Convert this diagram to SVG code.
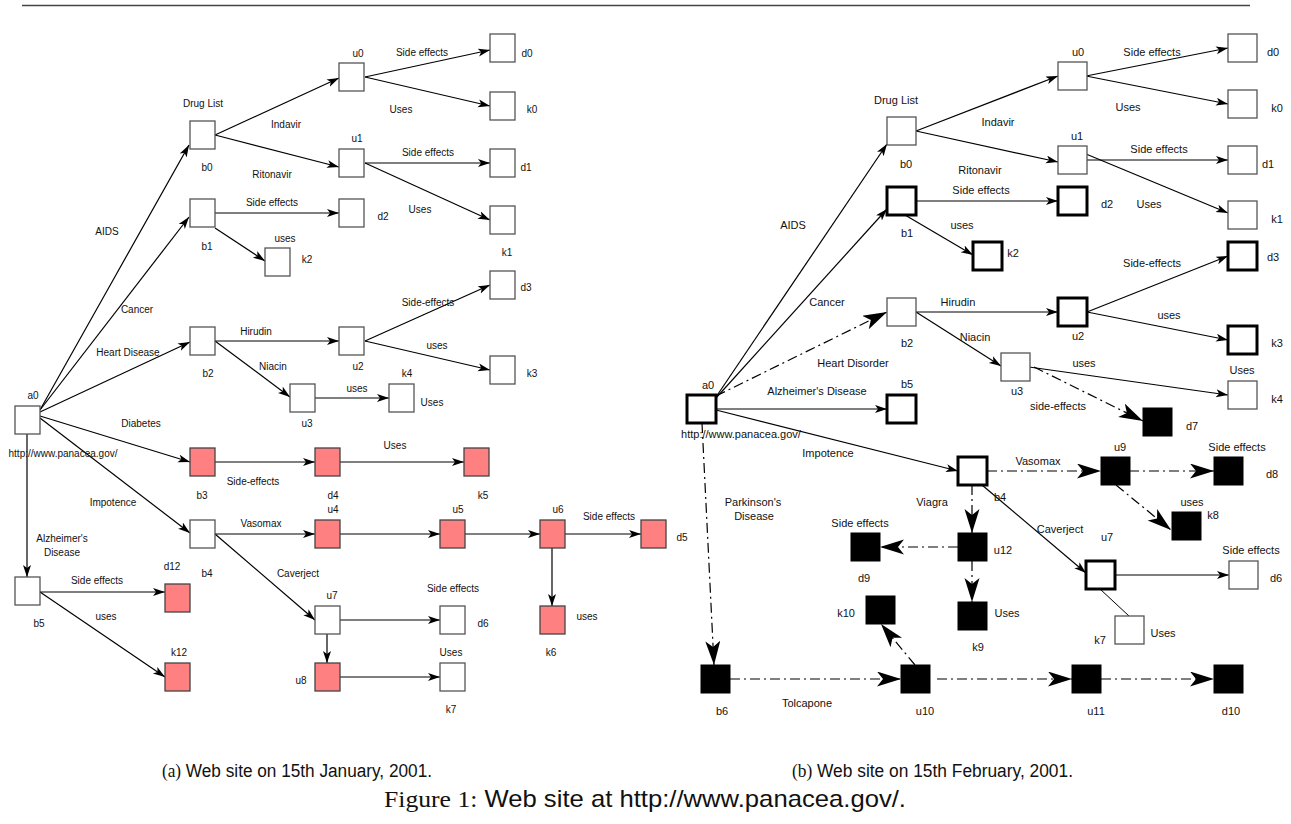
<svg xmlns="http://www.w3.org/2000/svg" width="1291" height="824" viewBox="0 0 1291 824">
<style>
text{font-family:"Liberation Sans",Arial,sans-serif;fill:#111;text-anchor:middle}
.L text{font-size:10px}
.R text{font-size:11px}
.n{fill:#fff;stroke:#555;stroke-width:1.3}
.r{fill:#ff8080;stroke:#444;stroke-width:1.3}
.t{fill:#fff;stroke:#000;stroke-width:3}
.k{fill:#000;stroke:#000;stroke-width:1}
.e{fill:none;stroke:#000;stroke-width:1.2;marker-end:url(#ah)}
.p{fill:none;stroke:#000;stroke-width:1}
.d{fill:none;stroke:#000;stroke-width:1.2;stroke-dasharray:10 4 2 4;marker-end:url(#ab)}
.cap{font-size:18px;text-anchor:start}
.serif{font-family:"Liberation Serif","Times New Roman",serif}
</style>
<defs>
<marker id="ah" markerUnits="userSpaceOnUse" markerWidth="14" markerHeight="10" refX="12" refY="4" orient="auto"><path d="M0,0 L12,4 L0,8 L3,4 Z" fill="#000"/></marker>
<marker id="ab" markerUnits="userSpaceOnUse" markerWidth="26" markerHeight="16" refX="24" refY="7.5" orient="auto"><path d="M0,0 L24,7.5 L0,15 L6,7.5 Z" fill="#000"/></marker>
</defs>
<line x1="22" y1="5.5" x2="1250" y2="5.5" stroke="#444" stroke-width="1.4"/>

<g id="diagram-a" class="L">
<g id="connectors-a">
<path class="e" d="M40,410 L189,145"/>
<path class="e" d="M40,410 L189,217"/>
<path class="e" d="M40,412 L190,342"/>
<path class="e" d="M40,416 L190,462"/>
<path class="e" d="M40,418 L190,533"/>
<path class="e" d="M27,434 L27,577"/>
<path class="e" d="M215,135 L339,78"/>
<path class="e" d="M215,135 L339,167"/>
<path class="e" d="M365,77 L490,50"/>
<path class="e" d="M365,77 L490,106"/>
<path class="e" d="M365,163 L490,163"/>
<path class="e" d="M365,163 L490,220"/>
<path class="e" d="M215,213 L339,213"/>
<path class="e" d="M215,228 L265,261"/>
<path class="e" d="M215,341 L339,341"/>
<path class="e" d="M215,341 L290,397"/>
<path class="e" d="M365,341 L490,285"/>
<path class="e" d="M365,341 L490,370"/>
<path class="e" d="M315,398 L389,398"/>
<path class="e" d="M215,462 L315,462"/>
<path class="e" d="M340,462 L464,462"/>
<path class="e" d="M215,534 L315,534"/>
<path class="e" d="M340,534 L440,534"/>
<path class="e" d="M465,534 L540,534"/>
<path class="e" d="M565,534 L641,534"/>
<path class="e" d="M552,548 L552,606"/>
<path class="e" d="M215,534 L315,620"/>
<path class="e" d="M327,634 L327,663"/>
<path class="e" d="M340,620 L440,620"/>
<path class="e" d="M340,677 L440,677"/>
<path class="e" d="M40,592 L165,592"/>
<path class="e" d="M40,592 L165,677"/>
</g>
<g id="a-a0"><rect class="n" x="15" y="406" width="25" height="28"/><text x="33" y="399">a0</text><text x="63" y="457">http://www.panacea.gov/</text></g>
<g id="a-b0"><rect class="n" x="190" y="121" width="25" height="28"/><text x="203" y="107">Drug List</text><text x="207" y="171">b0</text></g>
<g id="a-b1"><rect class="n" x="190" y="199" width="25" height="28"/><text x="207" y="250">b1</text></g>
<g id="a-k2"><rect class="n" x="265" y="248" width="25" height="28"/><text x="307" y="263">k2</text></g>
<g id="a-u0"><rect class="n" x="339" y="63" width="25" height="28"/><text x="358" y="57">u0</text></g>
<g id="a-d0"><rect class="n" x="490" y="34" width="25" height="28"/><text x="527" y="57">d0</text></g>
<g id="a-k0"><rect class="n" x="490" y="92" width="25" height="28"/><text x="532" y="113">k0</text></g>
<g id="a-u1"><rect class="n" x="339" y="149" width="25" height="28"/><text x="357" y="142">u1</text></g>
<g id="a-d1"><rect class="n" x="490" y="149" width="25" height="28"/><text x="526" y="171">d1</text></g>
<g id="a-k1"><rect class="n" x="490" y="206" width="25" height="28"/><text x="507" y="256">k1</text></g>
<g id="a-d2"><rect class="n" x="339" y="199" width="25" height="28"/><text x="383" y="220">d2</text></g>
<g id="a-b2"><rect class="n" x="190" y="327" width="25" height="28"/><text x="208" y="377">b2</text></g>
<g id="a-u2"><rect class="n" x="339" y="327" width="25" height="28"/><text x="358" y="370">u2</text></g>
<g id="a-d3"><rect class="n" x="490" y="271" width="25" height="28"/><text x="526" y="291">d3</text></g>
<g id="a-k3"><rect class="n" x="490" y="356" width="25" height="28"/><text x="532" y="377">k3</text></g>
<g id="a-u3"><rect class="n" x="290" y="384" width="25" height="28"/><text x="307" y="427">u3</text></g>
<g id="a-k4"><rect class="n" x="389" y="384" width="25" height="28"/><text x="407" y="377">k4</text><text x="432" y="406">Uses</text></g>
<g id="a-b3"><rect class="r" x="190" y="448" width="25" height="28"/><text x="202" y="499">b3</text></g>
<g id="a-d4"><rect class="r" x="315" y="448" width="25" height="28"/><text x="333" y="499">d4</text></g>
<g id="a-k5"><rect class="r" x="464" y="448" width="25" height="28"/><text x="483" y="499">k5</text></g>
<g id="a-b4"><rect class="n" x="190" y="520" width="25" height="28"/><text x="207" y="577">b4</text></g>
<g id="a-u4"><rect class="r" x="315" y="520" width="25" height="28"/><text x="333" y="513">u4</text></g>
<g id="a-u5"><rect class="r" x="440" y="520" width="25" height="28"/><text x="458" y="513">u5</text></g>
<g id="a-u6"><rect class="r" x="540" y="520" width="25" height="28"/><text x="558" y="513">u6</text></g>
<g id="a-d5"><rect class="r" x="641" y="520" width="25" height="28"/><text x="682" y="541">d5</text></g>
<g id="a-b5"><rect class="n" x="15" y="577" width="25" height="28"/><text x="39" y="627">b5</text></g>
<g id="a-d12"><rect class="r" x="165" y="584" width="25" height="28"/><text x="172" y="570">d12</text></g>
<g id="a-k12"><rect class="r" x="165" y="663" width="25" height="28"/><text x="179" y="656">k12</text></g>
<g id="a-u7"><rect class="n" x="315" y="606" width="25" height="28"/><text x="332" y="599">u7</text></g>
<g id="a-d6"><rect class="n" x="440" y="606" width="25" height="28"/><text x="483" y="627">d6</text></g>
<g id="a-u8"><rect class="r" x="315" y="663" width="25" height="28"/><text x="301" y="684">u8</text></g>
<g id="a-k7"><rect class="n" x="440" y="663" width="25" height="28"/><text x="451" y="713">k7</text></g>
<g id="a-k6"><rect class="r" x="540" y="606" width="25" height="28"/><text x="551" y="656">k6</text></g>
<g id="labels-a">
<text x="286" y="128">Indavir</text>
<text x="272" y="178">Ritonavir</text>
<text x="272" y="206">Side effects</text>
<text x="285" y="242">uses</text>
<text x="107" y="235">AIDS</text>
<text x="422" y="56">Side effects</text>
<text x="401" y="113">Uses</text>
<text x="428" y="156">Side effects</text>
<text x="420" y="213">Uses</text>
<text x="137" y="313">Cancer</text>
<text x="128" y="356">Heart Disease</text>
<text x="256" y="335">Hirudin</text>
<text x="273" y="370">Niacin</text>
<text x="428" y="306">Side-effects</text>
<text x="437" y="349">uses</text>
<text x="357" y="392">uses</text>
<text x="141" y="427">Diabetes</text>
<text x="253" y="485">Side-effects</text>
<text x="395" y="449">Uses</text>
<text x="113" y="506">Impotence</text>
<text x="261" y="527">Vasomax</text>
<text x="609" y="520">Side effects</text>
<text x="62" y="542">Alzheimer's</text>
<text x="62" y="556">Disease</text>
<text x="97" y="584">Side effects</text>
<text x="106" y="620">uses</text>
<text x="298" y="577">Caverject</text>
<text x="453" y="592">Side effects</text>
<text x="451" y="656">Uses</text>
<text x="587" y="620">uses</text>
</g>
</g>

<g id="diagram-b" class="R">
<g id="connectors-b">
<path class="e" d="M716,397 L887,144"/>
<path class="e" d="M716,398 L887,209"/>
<path class="e" d="M716,409 L887,409"/>
<path class="e" d="M716,410 L958,471"/>
<path class="e" d="M916,131 L1058,76"/>
<path class="e" d="M916,131 L1058,162"/>
<path class="e" d="M1086,76 L1228,48"/>
<path class="e" d="M1086,76 L1228,104"/>
<path class="e" d="M1086,160 L1228,160"/>
<path class="e" d="M1086,154 L1228,213"/>
<path class="e" d="M916,201 L1058,201"/>
<path class="e" d="M905,215 L973,255"/>
<path class="e" d="M916,312 L1058,312"/>
<path class="e" d="M916,312 L1001,366"/>
<path class="e" d="M1087,312 L1228,256"/>
<path class="e" d="M1087,312 L1228,340"/>
<path class="e" d="M1029,367 L1228,395"/>
<path class="e" d="M982,485 L1086,573"/>
<path class="e" d="M1115,575 L1229,575"/>
<path class="p" d="M1100,589 L1129,616"/>
<path class="d" d="M716,396 L887,312"/>
<path class="d" d="M702,423 L714,665"/>
<path class="d" d="M1034,367 L1143,421"/>
<path class="d" d="M987,471 L1101,471"/>
<path class="d" d="M1129,471 L1214,471"/>
<path class="d" d="M1116,485 L1171,530"/>
<path class="d" d="M972,485 L972,533"/>
<path class="d" d="M958,547 L880,547"/>
<path class="d" d="M972,561 L972,602"/>
<path class="d" d="M915,665 L881,624"/>
<path class="d" d="M730,679 L901,679"/>
<path class="d" d="M937,679 L1072,679"/>
<path class="d" d="M1101,679 L1214,679"/>
</g>
<g id="b-a0"><rect class="t" x="687" y="395" width="29" height="28"/><text x="708" y="389">a0</text><text x="741" y="438">http://www.panacea.gov/</text></g>
<g id="b-b0"><rect class="n" x="887" y="117" width="29" height="28"/><text x="896" y="104">Drug List</text><text x="906" y="168">b0</text></g>
<g id="b-b1"><rect class="t" x="887" y="187" width="29" height="28"/><text x="907" y="237">b1</text></g>
<g id="b-b2"><rect class="n" x="887" y="298" width="29" height="28"/><text x="907" y="347">b2</text></g>
<g id="b-b5"><rect class="t" x="887" y="395" width="29" height="28"/><text x="907" y="388">b5</text></g>
<g id="b-b4"><rect class="t" x="958" y="457" width="29" height="28"/><text x="1000" y="501">b4</text></g>
<g id="b-u0"><rect class="n" x="1058" y="62" width="29" height="28"/><text x="1078" y="56">u0</text></g>
<g id="b-u1"><rect class="n" x="1058" y="146" width="29" height="28"/><text x="1077" y="140">u1</text></g>
<g id="b-d2"><rect class="t" x="1058" y="187" width="29" height="28"/><text x="1107" y="208">d2</text></g>
<g id="b-k2"><rect class="t" x="973" y="242" width="29" height="28"/><text x="1013" y="257">k2</text></g>
<g id="b-u2"><rect class="t" x="1058" y="298" width="29" height="28"/><text x="1078" y="340">u2</text></g>
<g id="b-u3"><rect class="n" x="1001" y="353" width="29" height="28"/><text x="1017" y="395">u3</text></g>
<g id="b-d0"><rect class="n" x="1228" y="34" width="29" height="28"/><text x="1273" y="56">d0</text></g>
<g id="b-k0"><rect class="n" x="1228" y="90" width="29" height="28"/><text x="1277" y="112">k0</text></g>
<g id="b-d1"><rect class="n" x="1228" y="146" width="29" height="28"/><text x="1268" y="168">d1</text></g>
<g id="b-k1"><rect class="n" x="1228" y="201" width="29" height="28"/><text x="1277" y="223">k1</text></g>
<g id="b-d3"><rect class="t" x="1228" y="242" width="29" height="28"/><text x="1273" y="261">d3</text></g>
<g id="b-k3"><rect class="t" x="1228" y="326" width="29" height="28"/><text x="1277" y="347">k3</text></g>
<g id="b-k4"><rect class="n" x="1228" y="381" width="29" height="28"/><text x="1242" y="374">Uses</text><text x="1277" y="403">k4</text></g>
<g id="b-d7"><rect class="k" x="1143" y="408" width="29" height="28"/><text x="1192" y="430">d7</text></g>
<g id="b-u9"><rect class="k" x="1101" y="457" width="29" height="28"/><text x="1120" y="451">u9</text></g>
<g id="b-d8"><rect class="k" x="1214" y="457" width="29" height="28"/><text x="1237" y="451">Side effects</text><text x="1272" y="478">d8</text></g>
<g id="b-k8"><rect class="k" x="1172" y="512" width="29" height="28"/><text x="1213" y="519">k8</text></g>
<g id="b-u12"><rect class="k" x="958" y="533" width="29" height="28"/><text x="1003" y="554">u12</text></g>
<g id="b-d9"><rect class="k" x="851" y="533" width="29" height="28"/><text x="860" y="527">Side effects</text><text x="864" y="582">d9</text></g>
<g id="b-k9"><rect class="k" x="958" y="602" width="29" height="28"/><text x="1007" y="617">Uses</text><text x="978" y="651">k9</text></g>
<g id="b-k10"><rect class="k" x="866" y="596" width="29" height="28"/><text x="846" y="617">k10</text></g>
<g id="b-u7"><rect class="t" x="1086" y="561" width="29" height="28"/><text x="1107" y="541">u7</text></g>
<g id="b-d6"><rect class="n" x="1229" y="561" width="29" height="28"/><text x="1251" y="554">Side effects</text><text x="1276" y="582">d6</text></g>
<g id="b-k7"><rect class="n" x="1115" y="616" width="29" height="28"/><text x="1163" y="637">Uses</text><text x="1100" y="644">k7</text></g>
<g id="b-b6"><rect class="k" x="701" y="665" width="29" height="28"/><text x="722" y="715">b6</text></g>
<g id="b-u10"><rect class="k" x="901" y="665" width="29" height="28"/><text x="925" y="715">u10</text></g>
<g id="b-u11"><rect class="k" x="1072" y="665" width="29" height="28"/><text x="1096" y="715">u11</text></g>
<g id="b-d10"><rect class="k" x="1214" y="665" width="29" height="28"/><text x="1231" y="715">d10</text></g>
<g id="labels-b">
<text x="793" y="229">AIDS</text>
<text x="962" y="229">uses</text>
<text x="1152" y="56">Side effects</text>
<text x="1128" y="111">Uses</text>
<text x="998" y="126">Indavir</text>
<text x="1159" y="153">Side effects</text>
<text x="980" y="174">Ritonavir</text>
<text x="981" y="194">Side effects</text>
<text x="1149" y="208">Uses</text>
<text x="1152" y="267">Side-effects</text>
<text x="827" y="306">Cancer</text>
<text x="958" y="306">Hirudin</text>
<text x="975" y="341">Niacin</text>
<text x="1169" y="319">uses</text>
<text x="853" y="367">Heart Disorder</text>
<text x="1084" y="367">uses</text>
<text x="817" y="395">Alzheimer's Disease</text>
<text x="1058" y="410">side-effects</text>
<text x="828" y="457">Impotence</text>
<text x="1038" y="465">Vasomax</text>
<text x="753" y="506">Parkinson's</text>
<text x="754" y="520">Disease</text>
<text x="932" y="506">Viagra</text>
<text x="1192" y="506">uses</text>
<text x="1060" y="533">Caverject</text>
<text x="807" y="707">Tolcapone</text>
</g>
</g>

<g id="captions">
<text class="cap" x="162" y="777" textLength="270" lengthAdjust="spacingAndGlyphs"><tspan class="serif">(a)</tspan> Web site on 15th January, 2001.</text>
<text class="cap" x="792" y="777" textLength="281" lengthAdjust="spacingAndGlyphs"><tspan class="serif">(b)</tspan> Web site on 15th February, 2001.</text>
<text class="cap" x="384" y="807" style="font-size:24px" textLength="522" lengthAdjust="spacingAndGlyphs"><tspan class="serif">Figure 1:</tspan> Web site at http://www.panacea.gov/.</text>
</g>
</svg>
